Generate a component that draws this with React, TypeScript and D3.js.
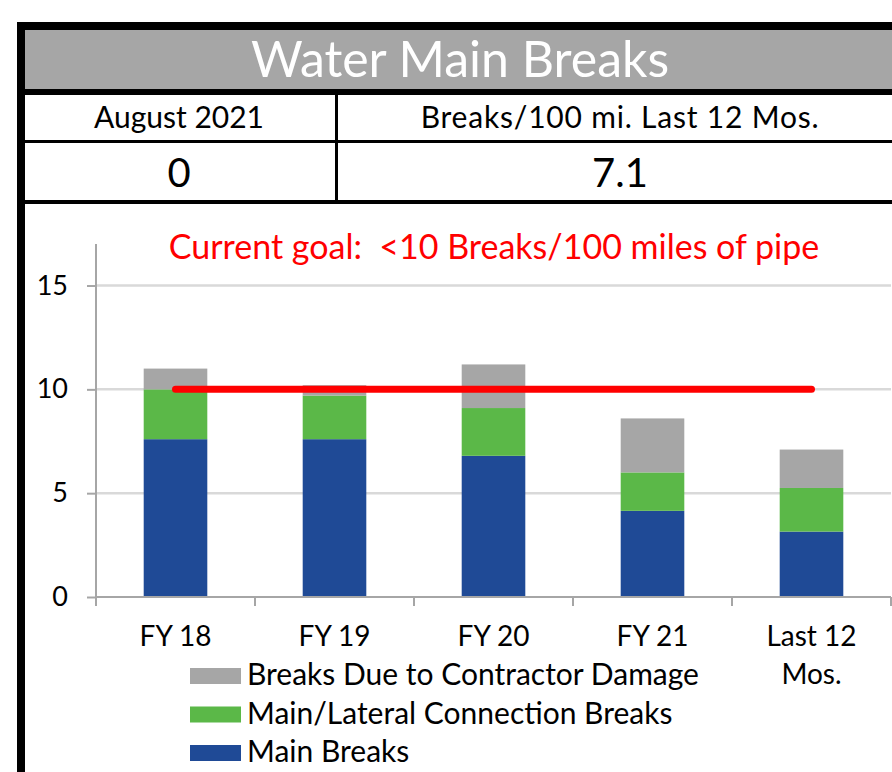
import React, { useEffect, useRef } from 'react';
import * as d3 from 'd3';

const categories = ['FY 18', 'FY 19', 'FY 20', 'FY 21', 'Last 12 Mos.'];
const mainBreaks = [7.6, 7.6, 6.8, 4.15, 3.15];
const lateralBreaks = [2.4, 2.1, 2.3, 1.85, 2.1];
const contractorBreaks = [1.0, 0.5, 2.1, 2.6, 1.85];
const seriesNames = ['Main Breaks', 'Main/Lateral Connection Breaks', 'Breaks Due to Contractor Damage'];
const seriesColors = ['#1f4a96', '#5bb848', '#a6a6a6'];
const yTicks = [0, 5, 10, 15];
const goal = 10;
const monthLabel = 'August 2021';
const monthValue = '0';
const rateLabel = 'Breaks/100 mi. Last 12 Mos.';
const rateValue = '7.1';

const FONT = 'Lato, "Open Sans", sans-serif';

export default function App() {
    const ref = useRef<SVGSVGElement | null>(null);

    useEffect(() => {
        const svg = d3.select(ref.current);
        svg.selectAll('*').remove();
        const width = 892, height = 772;
        const margin = { top: 244, right: 1, bottom: 175, left: 96 };

        svg.attr('viewBox', `0 0 ${width} ${height}`);
        svg.append('rect').attr('width', width).attr('height', height).attr('fill', '#fff');

        // header table
        const head = svg.append('g');
        head.append('rect').attr('x', 24).attr('y', 30).attr('width', width - 24).attr('height', 59).attr('fill', '#a6a6a6');
        head.append('rect').attr('x', 17).attr('y', 22).attr('width', width - 17).attr('height', 8).attr('fill', '#000');
        head.append('rect').attr('x', 17).attr('y', 22).attr('width', 8).attr('height', height - 22).attr('fill', '#000');
        head.append('rect').attr('x', 24).attr('y', 89).attr('width', width - 24).attr('height', 6).attr('fill', '#000');
        head.append('rect').attr('x', 24).attr('y', 140).attr('width', width - 24).attr('height', 3).attr('fill', '#000');
        head.append('rect').attr('x', 24).attr('y', 200).attr('width', width - 24).attr('height', 4).attr('fill', '#000');
        head.append('rect').attr('x', 335).attr('y', 95).attr('width', 3).attr('height', 105).attr('fill', '#000');

        head.append('text').attr('x', 460).attr('y', 77).attr('text-anchor', 'middle')
            .attr('font-size', 50).attr('fill', '#fff').text('Water Main Breaks');
        head.append('text').attr('x', 179).attr('y', 128).attr('text-anchor', 'middle')
            .attr('font-size', 30).attr('fill', '#000').text(monthLabel);
        head.append('text').attr('x', 620).attr('y', 128).attr('text-anchor', 'middle')
            .attr('font-size', 30).attr('letter-spacing', 0.8).attr('fill', '#000').text(rateLabel);
        head.append('text').attr('x', 179).attr('y', 187).attr('text-anchor', 'middle')
            .attr('font-size', 40).attr('fill', '#000').text(monthValue);
        head.append('text').attr('x', 620).attr('y', 187).attr('text-anchor', 'middle')
            .attr('font-size', 40).attr('fill', '#000').text(rateValue);

        // chart
        const x = d3.scaleBand().domain(categories).range([margin.left, width - margin.right]).paddingInner(0.6).paddingOuter(0.3);
        const y = d3.scaleLinear().domain([0, 17]).range([height - margin.bottom, margin.top]);

        const grid = svg.append('g');
        grid.selectAll('line').data(yTicks.filter(t => t > 0)).join('line')
            .attr('x1', margin.left).attr('x2', width - margin.right)
            .attr('y1', d => y(d)).attr('y2', d => y(d))
            .attr('stroke', '#d9d9d9').attr('stroke-width', 2.5);

        const rows = categories.map((c, i) => ({
            cat: c,
            main: mainBreaks[i],
            lateral: lateralBreaks[i],
            contractor: contractorBreaks[i],
        }));
        const stack = d3.stack<any>().keys(['main', 'lateral', 'contractor'])(rows);

        svg.append('g').selectAll('g').data(stack).join('g')
            .attr('fill', (_d, i) => seriesColors[i])
            .selectAll('rect').data(d => d).join('rect')
            .attr('x', (d: any) => x(d.data.cat)!)
            .attr('width', x.bandwidth())
            .attr('y', (d: any) => y(d[1]))
            .attr('height', (d: any) => y(d[0]) - y(d[1]));

        // axes
        const yAxis = svg.append('g').attr('transform', `translate(${margin.left},0)`)
            .call(d3.axisLeft(y).tickValues(yTicks).tickSize(9).tickPadding(18));
        yAxis.select('.domain').attr('stroke', '#a6a6a6').attr('stroke-width', 2)
            .attr('d', `M0,${y(17)}V${y(0)}`);
        yAxis.selectAll('.tick line').attr('stroke', '#a6a6a6').attr('stroke-width', 2);
        yAxis.selectAll('.tick text').attr('font-size', 27).attr('font-family', FONT)
            .attr('fill', '#000').attr('dx', -1);

        const xAxis = svg.append('g').attr('transform', `translate(0,${y(0)})`)
            .call(d3.axisBottom(x).tickSize(0).tickFormat(() => ''));
        xAxis.select('.domain').attr('stroke', '#a6a6a6').attr('stroke-width', 2)
            .attr('d', `M${margin.left},0H${width - margin.right}`);

        const step = x.step();
        const bounds = d3.range(categories.length + 1).map(i => margin.left + (i === categories.length ? width - margin.right - margin.left : step * i));
        xAxis.append('g').selectAll('line').data(bounds).join('line')
            .attr('x1', d => d).attr('x2', d => d).attr('y1', 0).attr('y2', 9)
            .attr('stroke', '#a6a6a6').attr('stroke-width', 2);

        const labels = svg.append('g').attr('font-size', 28).attr('fill', '#000').attr('text-anchor', 'middle');
        categories.forEach(c => {
            const cx = x(c)! + x.bandwidth() / 2;
            const parts = c === 'Last 12 Mos.' ? ['Last 12', 'Mos.'] : [c];
            parts.forEach((p, j) => {
                labels.append('text').attr('x', cx).attr('y', 646 + j * 38).text(p);
            });
        });

        // goal line
        const first = x(categories[0])! + x.bandwidth() / 2;
        const last = x(categories[categories.length - 1])! + x.bandwidth() / 2;
        svg.append('line')
            .attr('x1', first).attr('x2', last)
            .attr('y1', y(goal)).attr('y2', y(goal))
            .attr('stroke', '#ff0000').attr('stroke-width', 7).attr('stroke-linecap', 'round');

        svg.append('text').attr('x', 494).attr('y', 259).attr('text-anchor', 'middle')
            .attr('font-size', 34).attr('fill', '#ff0000').attr('xml:space', 'preserve')
            .text('Current goal:  <10 Breaks/100 miles of pipe');

        // legend
        const legendOrder = [2, 1, 0];
        const legend = svg.append('g');
        legendOrder.forEach((s, i) => {
            const ly = 668 + i * 38.5;
            legend.append('rect').attr('x', 190).attr('y', ly).attr('width', 51).attr('height', 16)
                .attr('fill', seriesColors[s]);
            legend.append('text').attr('x', 247).attr('y', ly + 17).attr('font-size', 30).attr('fill', '#000')
                .text(seriesNames[s]);
        });

        svg.selectAll('text').attr('font-family', FONT);
    }, []);

    return (
        <svg ref={ref} width={892} height={772}
            style={{ position: 'absolute', left: 0, top: 0, display: 'block' }} />
    );
}
